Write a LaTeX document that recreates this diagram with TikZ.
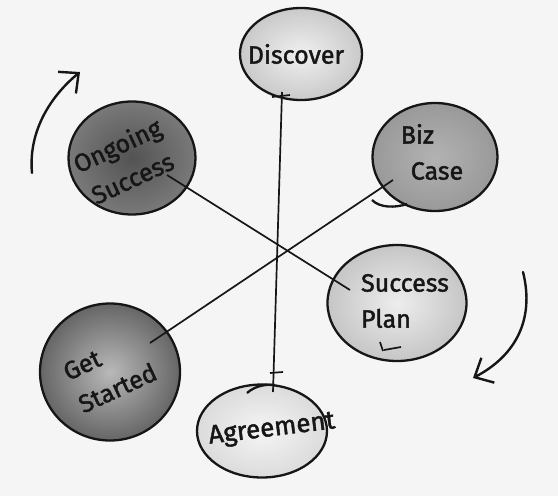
\documentclass[tikz,border=0pt]{standalone}
\usepackage{fontspec}
\setmainfont{Fira Sans}
\newfontfamily\markerfont{Fira Sans}[FakeBold=1.6]
\usetikzlibrary{calc,shapes.geometric,arrows.meta}

\definecolor{paper}{HTML}{F5F5F5}
\definecolor{ink}{HTML}{161616}

\tikzset{
  bubble/.style={ellipse, draw=ink, line width=2.3pt, inner sep=0pt},
  word/.style={font=\markerfont\fontsize{25}{36}\selectfont, text=ink, inner sep=0pt},
  spoke/.style={draw=ink, line width=1.7pt},
  turn/.style={draw=ink, line width=2.4pt, line cap=round, -{Straight Barb[length=15pt,width=28pt]}}
}

\begin{document}
\begin{tikzpicture}[x=1pt, y=-1pt]
\fill[paper] (0,0) rectangle (558,496);
\useasboundingbox (0,0) rectangle (558,496);

% the six stages
\begin{scope}
\node[bubble, inner color=gray!12, outer color=gray!42, minimum width=122pt, minimum height=92pt,
  label={[word, xshift=-5pt]center:Discover}] (disc) at (301,54) {};
\node[bubble, inner color=gray!65!black, outer color=gray!95!black, minimum width=127pt, minimum height=113pt,
  label={[word, align=center, rotate=25, xshift=-8pt]center:Ongoing\\Success}] (ongo) at (132,158) {};
\node[bubble, inner color=gray!60, outer color=gray!80, minimum width=125pt, minimum height=108pt,
  label={[word, align=left, xshift=-3pt, yshift=5pt]center:Biz\\\hspace*{10pt}Case}] (biz) at (435,157) {};
\node[bubble, inner color=gray!14, outer color=gray!45, minimum width=139pt, minimum height=116pt,
  label={[word, align=left, xshift=8pt, yshift=2pt]center:Success\\Plan}] (plan) at (397,303) {};
\node[bubble, inner color=gray!55, outer color=gray!80!black, minimum width=140pt, minimum height=137pt,
  label={[word, align=left, rotate=25]center:Get\\Started}] (start) at (110,372) {};
\node[bubble, inner color=gray!8, outer color=gray!28, minimum width=130pt, minimum height=93pt,
  label={[word, font=\markerfont\fontsize{26}{30}\selectfont, rotate=7, xshift=10pt]center:Agreement}] (agr) at (262,431) {};
\end{scope}

% spokes
\draw[spoke] ($(disc)+(-19,38)$) -- ($(agr)+(11,-39)$);
\draw[spoke] ($(ongo)+(35,17)$) -- ($(plan)+(-47,-13)$);
\draw[spoke] ($(start)+(40,-29)$) -- ($(biz)+(-42,23)$);

% pen ticks
\draw[spoke] ($(disc)+(-29,43)$) -- ($(disc)+(-11,41)$);
\draw[spoke] ($(agr)+(8,-58)$) -- ($(agr)+(21,-59)$);
\draw[bubble] ($(agr)+(-15,-38)$) .. controls ($(agr)+(-7,-45)$) and ($(agr)+(3,-47)$) .. ($(agr)+(13,-46)$);
\draw[bubble] ($(biz)+(-63,43)$) .. controls ($(biz)+(-55,51)$) and ($(biz)+(-40,51)$) .. ($(biz)+(-28,47)$);
\draw[spoke] ($(plan)+(-17,39)$) -- ($(plan)+(-14,48)$);
\draw[spoke] ($(plan)+(-13,47)$) -- ($(plan)+(4,44)$);

% direction arrows
\coordinate (a1) at (32,173);
\coordinate (a2) at (80,72);
\draw[turn] (a1) .. controls (28,130) and (52,95) .. (a2);
\coordinate (b1) at (523,272);
\coordinate (b2) at (473,378);
\draw[turn] (b1) .. controls (535,320) and (515,356) .. (b2);

\end{tikzpicture}
\end{document}
